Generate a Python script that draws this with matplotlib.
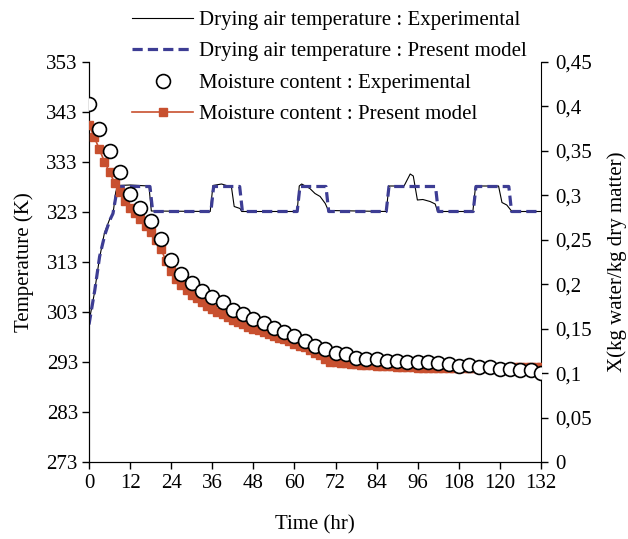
import numpy as np
import matplotlib
matplotlib.use("Agg")
import matplotlib.pyplot as plt

plt.rcParams["font.family"] = ["Liberation Serif", "DejaVu Serif"]

# drying air temperature (K), experimental
t_temp_exp = [0, 1.5, 3, 4.5, 6, 7, 7.8, 8.5, 12, 17.5, 18.2, 35.4, 36.2, 38.7, 41.6, 42.4,
              44.1, 44.6, 60.8, 61.4, 62.1, 64.5, 66, 67.5, 69, 69.9, 86.8, 87.6, 92, 93.8,
              94.7, 95.9, 97.5, 99.6, 101.1, 101.8, 112.1, 112.9, 119.6, 120.6, 122, 123.5, 132]
T_exp = [301, 306.5, 313.5, 318.8, 321.5, 322.5, 327, 328.3, 328.4, 328.2, 323.2, 323.1, 328.3,
         328.6, 328.0, 324.1, 323.7, 323.1, 323.1, 328.2, 328.6, 327.7, 326.7, 326.1, 324.7,
         323.3, 323.1, 328.2, 328.2, 330.6, 330.2, 325.4, 325.5, 325.1, 324.6, 323.1, 323.1,
         328.2, 328.2, 324.9, 324.4, 323.1, 323.1]

# drying air temperature (K), present model
t_temp_mod = [0, 1.7, 3.1, 4.6, 6.1, 7.0, 8.0, 8.5, 17.8, 18.6, 35.6, 36.4, 44.0, 44.8, 60.8,
              61.6, 69.2, 70.0, 86.8, 87.6, 101.2, 102.0, 112.2, 113.0, 122.6, 123.4, 132]
T_mod = [300.5, 307.4, 314.1, 318.4, 321.4, 322.7, 326.7, 328.1, 328.1, 323.1, 323.1, 328.1,
         328.1, 323.1, 323.1, 328.1, 328.1, 323.1, 323.1, 328.1, 328.1, 323.1, 323.1, 328.1,
         328.1, 323.1, 323.1]

# moisture content (kg water/kg dry matter), experimental, every 3 h
t_X_exp = np.arange(0, 133, 3)
X_exp = [0.403, 0.375, 0.350, 0.326, 0.301, 0.286, 0.271, 0.251, 0.227, 0.212, 0.201, 0.192,
         0.186, 0.180, 0.171, 0.166, 0.161, 0.156, 0.151, 0.146, 0.142, 0.136, 0.131, 0.127,
         0.123, 0.121, 0.117, 0.116, 0.1155, 0.114, 0.114, 0.113, 0.1125, 0.112, 0.111, 0.1105,
         0.108, 0.109, 0.1065, 0.1065, 0.1045, 0.1045, 0.1035, 0.1035, 0.1005]

# moisture content, present model, every 1.5 h
t_X_mod = np.arange(0, 132.1, 1.5)
X_mod = [0.379, 0.366, 0.352, 0.338, 0.326, 0.314, 0.304, 0.294, 0.286, 0.280, 0.273, 0.266,
         0.259, 0.250, 0.240, 0.226, 0.215, 0.206, 0.199, 0.193, 0.188, 0.184, 0.180, 0.176,
         0.172, 0.169, 0.166, 0.163, 0.160, 0.157, 0.155, 0.152, 0.150, 0.148, 0.146, 0.144,
         0.142, 0.140, 0.138, 0.136, 0.133, 0.131, 0.129, 0.126, 0.123, 0.120, 0.116, 0.113,
         0.112, 0.1115, 0.111, 0.1105, 0.110, 0.1095, 0.109, 0.109, 0.1085, 0.108, 0.108,
         0.1075, 0.107, 0.107, 0.1065, 0.1065, 0.106, 0.106, 0.106, 0.1055, 0.1055, 0.1055,
         0.1055, 0.1055, 0.1055, 0.1055, 0.1055, 0.1055, 0.1055, 0.106, 0.106, 0.106, 0.106,
         0.106, 0.106, 0.1065, 0.1065, 0.1065, 0.1065, 0.107, 0.107]

t_ticks = list(range(0, 133, 12))
T_ticks = list(range(273, 354, 10))
X_ticks = [0, 0.05, 0.1, 0.15, 0.2, 0.25, 0.3, 0.35, 0.4, 0.45]
X_ticklabels = ["0", "0,05", "0,1", "0,15", "0,2", "0,25", "0,3", "0,35", "0,4", "0,45"]

FS = 15
BLUE = "#3d3d94"
RED = "#c8502f"

fig = plt.figure(figsize=(6.28, 5.39), dpi=100)
ax = fig.add_axes([89 / 628, 1 - 462 / 539, (541 - 89) / 628, (462 - 62) / 539])
ax2 = ax.twinx()

h1, = ax.plot(t_temp_exp, T_exp, color="black", lw=0.8,
              label="Drying air temperature : Experimental", zorder=2)
h2, = ax.plot(t_temp_mod, T_mod, color=BLUE, lw=2.3, ls=(0, (3.2, 1.6)),
              label="Drying air temperature : Present model", zorder=3)
h4, = ax2.plot(t_X_mod, X_mod, color=RED, lw=1.2, marker="s", ms=5.6, mec=RED, mfc=RED,
               label="Moisture content : Present model", zorder=3)
h3, = ax2.plot(t_X_exp, X_exp, ls="none", marker="o", ms=10, mfc="white", mec="black",
               mew=1.2, label="Moisture content : Experimental", zorder=4)

ax.set_xlim(0, 132)
ax.set_ylim(273, 353)
ax2.set_ylim(0, 0.45)
ax.set_xticks(t_ticks)
ax.set_yticks(T_ticks)
ax2.set_yticks(X_ticks)
ax2.set_yticklabels(X_ticklabels)

for a in (ax, ax2):
    a.spines["top"].set_visible(False)
    a.tick_params(direction="out", length=5, width=1, labelsize=FS, pad=3)
ax.spines["right"].set_visible(False)
ax.tick_params(axis="y", pad=3)
ax.tick_params(axis="x", pad=4)
ax2.tick_params(axis="y", pad=5)

ax.set_xlabel("Time (hr)", fontsize=FS, labelpad=16)
ax.set_ylabel("Temperature (K)", fontsize=FS, labelpad=9)
ax2.set_ylabel("X(kg water/kg dry matter)", fontsize=FS, labelpad=11)

fig.legend(handles=[h1, h2, h3, h4], loc="upper left", bbox_to_anchor=(122 / 628, 1.0),
           frameon=False, fontsize=FS, handlelength=2.9, handletextpad=0.3,
           labelspacing=0.57, borderaxespad=0.1)

fig.savefig("out.png", dpi=100)
